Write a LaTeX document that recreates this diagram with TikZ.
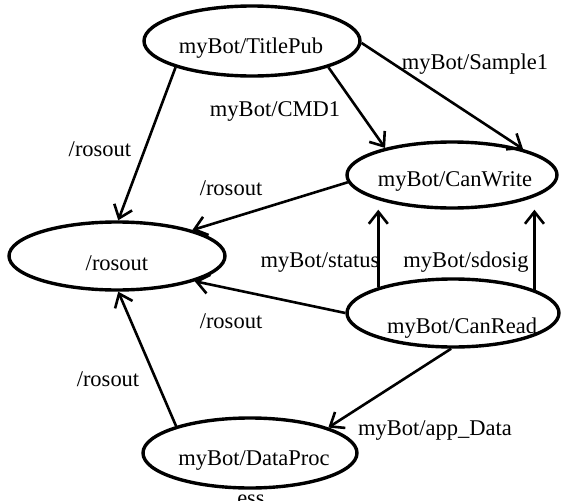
\documentclass[tikz,border=0pt]{standalone}
\usepackage{fontspec}
\setmainfont{Liberation Serif}
\usetikzlibrary{shapes.geometric,arrows.meta}
\begin{document}
\begin{tikzpicture}[x=1pt,y=-1pt,
  st/.style={ellipse,draw,line width=3.4pt,inner sep=0pt},
  txt/.style={anchor=base,inner sep=0pt,font=\fontsize{22.5}{26}\selectfont},
  edge/.style={line width=2.6pt,-{Straight Barb[length=12pt,width=19pt]}}]
\useasboundingbox (0,0) rectangle (563,501);
% states
\node[st,minimum width=216pt,minimum height=70pt] (tp) at (252,41) {};
\node[st,minimum width=210pt,minimum height=66pt] (cw) at (452,175) {};
\node[st,minimum width=216pt,minimum height=68pt] (ro) at (117,256) {};
\node[st,minimum width=212pt,minimum height=68pt] (cr) at (453,313) {};
\node[st,minimum width=214pt,minimum height=70pt] (dp) at (250,453) {};
% state texts
\node[txt] (tpt) at (251,53.3) {myBot/TitlePub};
\node[txt] (cwt) at (455,186.7) {myBot/CanWrite};
\node[txt] (rot) at (117,270.7) {/rosout};
\node[txt] (crt) at (462,333.3) {myBot/CanRead};
\node[txt] (dpt) at (254,465) {myBot/DataProc};
\node[txt] (esst) at (251,505) {ess};
% edges
\draw[edge] (tp.199) -- (ro.88);
\draw[edge] (tp.341) -- (cw.158);
\draw[edge] (tp.359) -- (cw.20);
\draw[edge] (cw.184) -- (ro.19);
\draw[edge] (cr.161) -- (cr.161 |- cw.south);
\draw[edge] (cr.16) -- (cr.16 |- cw.south);
\draw[edge] (cr.180) -- (ro.342);
\draw[edge] (cr.267) -- (dp.18);
\draw[edge] (dp.160) -- (ro.272);
% edge labels
\node[txt] (l1) at (475,69.3) {myBot/Sample1};
\node[txt] (l2) at (275,116) {myBot/CMD1};
\node[txt] (l3) at (100,156.7) {/rosout};
\node[txt] (l4) at (231,195) {/rosout};
\node[txt] (l5) at (320,267.7) {myBot/status};
\node[txt] (l6) at (466,267.7) {myBot/sdosig};
\node[txt] (l7) at (231,328.3) {/rosout};
\node[txt] (l8) at (108,386.7) {/rosout};
\node[txt] (l9) at (435,435) {myBot/app\_Data};
\end{tikzpicture}
\end{document}
